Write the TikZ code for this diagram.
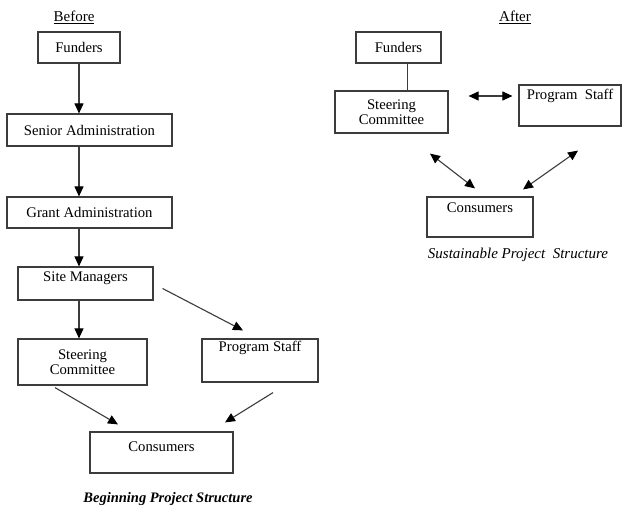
\documentclass[tikz,border=0pt]{standalone}
\usepackage{xcolor}
\usepackage{fontspec}
\setmainfont{Liberation Serif}
\usetikzlibrary{arrows.meta,positioning}
\definecolor{structLineGray}{RGB}{60,60,60}
\colorlet{linegray}{structLineGray}

\begin{document}
\begin{tikzpicture}[x=1pt,y=-1pt,
  box/.style={draw=linegray,line width=1.2pt,align=center,inner sep=3pt,font=\fontsize{14.7}{15}\selectfont},
  arrow/.style={-{Triangle[length=10pt,width=9pt,black]},line width=1.1pt,draw=linegray},
  dblarrow/.style={{Triangle[length=10pt,width=9pt,black]}-{Triangle[length=10pt,width=9pt,black]},line width=1.1pt,draw=linegray},
  plain/.style={line width=1.1pt,draw=linegray},
  heading/.style={font=\fontsize{15}{15}\selectfont},
  caption/.style={font=\fontsize{15}{15}\selectfont\itshape}
]
\useasboundingbox (0,0) rectangle (623,511);
\fill[white] (0,0) rectangle (623,511);
\node[heading] (before) at (74,17) {\underline{Before}};
\node[box,minimum width=82pt,minimum height=31pt] (bFunders) at (79,47.5) {Funders};
\node[box,minimum width=165pt,minimum height=32pt] (bSenior) at (89.5,130) {Senior Administration};
\node[box,minimum width=165pt,minimum height=31pt] (bGrant) at (89.5,212.5) {Grant Administration};
\node[box,minimum width=135pt,minimum height=33pt,text height=11.6pt,text depth=15.4pt] (bSite) at (85.5,283.5) {Site Managers};
\node[box,minimum width=129pt,minimum height=46pt] (bSteer) at (82.5,362) {Steering\\Committee};
\node[box,minimum width=116pt,minimum height=43pt,text height=9.6pt,text depth=27.4pt] (bStaff) at (260,360.5) {Program Staff};
\node[box,minimum width=143pt,minimum height=41pt,text height=16.6pt,text depth=18.4pt] (bCons) at (161.5,452.5) {Consumers};
\node[caption,font=\fontsize{14.5}{15}\selectfont\bfseries\itshape] (bCaption) at (168,499) {Beginning Project Structure};
\draw[arrow] (bFunders.south) -- (bFunders.south |- bSenior.north);
\draw[arrow] (bFunders.south |- bSenior.south) -- (bFunders.south |- bGrant.north);
\draw[arrow] (bFunders.south |- bGrant.south) -- (bFunders.south |- bSite.north);
\draw[arrow] (bFunders.south |- bSite.south) -- (bFunders.south |- bSteer.north);
\draw[arrow] ([xshift=9pt,yshift=-5pt]bSite.east) -- ([xshift=-17pt,yshift=8pt]bStaff.north);
\draw[arrow] ([xshift=-27.5pt,yshift=-2pt]bSteer.south) -- ([xshift=-43.5pt,yshift=7pt]bCons.north);
\draw[arrow] ([xshift=13pt,yshift=-10pt]bStaff.south) -- ([xshift=63.5pt,yshift=9pt]bCons.north);

\node[heading] (after) at (515,17) {\underline{After}};
\node[box,minimum width=85pt,minimum height=31pt] (aFunders) at (398.5,47.5) {Funders};
\node[box,minimum width=113pt,minimum height=42pt] (aSteer) at (391.5,112) {Steering\\Committee};
\node[box,minimum width=102pt,minimum height=41pt,text height=11.6pt,text depth=23.4pt] (aStaff) at (570,105.5) {Program\ \ Staff};
\node[box,minimum width=106pt,minimum height=40pt,text height=12.6pt,text depth=21.4pt] (aCons) at (480,217) {Consumers};
\node[caption] (aCaption) at (518,255) {Sustainable Project\ \ Structure};
\draw[plain] ([xshift=9pt]aFunders.south) -- ([xshift=9pt]aFunders.south |- aSteer.north);
\draw[dblarrow] ([xshift=20pt,yshift=16pt]aSteer.east) -- ([xshift=-6pt,yshift=9.5pt]aStaff.west);
\draw[dblarrow] ([xshift=38.5pt,yshift=-20pt]aSteer.south) -- ([xshift=-5pt,yshift=8pt]aCons.north);
\draw[dblarrow] ([xshift=8pt,yshift=-24pt]aStaff.south) -- ([xshift=43pt,yshift=7pt]aCons.north);
\end{tikzpicture}
\end{document}
